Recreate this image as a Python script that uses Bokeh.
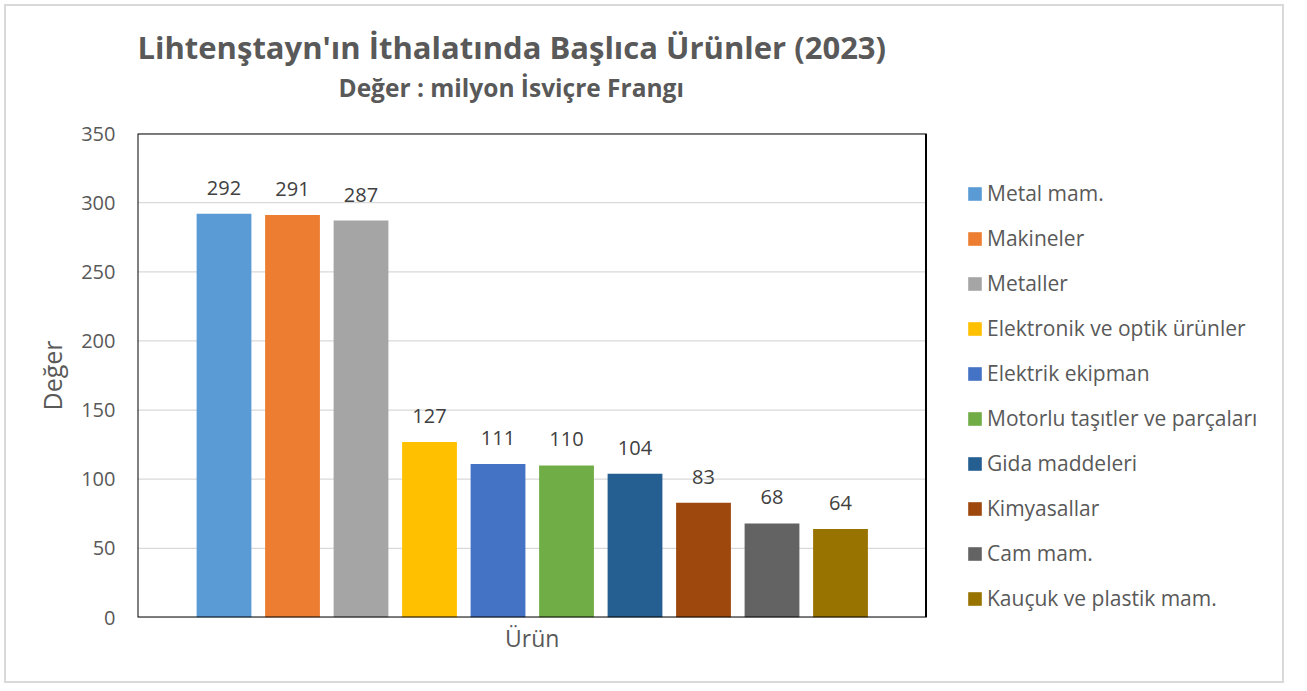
from bokeh.plotting import figure
from bokeh.models import (ColumnDataSource, LabelSet, Legend, LegendItem, Range1d,
                          FixedTicker, Title, BoxAnnotation)
from bokeh.embed import file_html
from bokeh.resources import INLINE
from bokeh.core.properties import value

categories = ["Metal mam.", "Makineler", "Metaller", "Elektronik ve optik ürünler",
              "Elektrik ekipman", "Motorlu taşıtler ve parçaları", "Gida maddeleri",
              "Kimyasallar", "Cam mam.", "Kauçuk ve plastik mam."]
values = [292, 291, 287, 127, 111, 110, 104, 83, 68, 64]
colors = ["#5B9BD5", "#ED7D31", "#A5A5A5", "#FFC000", "#4472C4",
          "#70AD47", "#255E91", "#9E480E", "#636363", "#997300"]
y_ticks = [0, 50, 100, 150, 200, 250, 300, 350]
title_text = "Lihtenştayn'ın İthalatında Başlıca Ürünler (2023)"
subtitle_text = "Değer : milyon İsviçre Frangı"
x_label = "Ürün"
y_label = "Değer"

FONT = "Open Sans"
W, H = 1280, 679
X0, X1 = -1.263, 10.248          # extent of the plotting box in x units
Y0, Y1 = 0, 350

src = ColumnDataSource(dict(x=list(range(len(values))), top=values, color=colors,
                            label=[str(v) for v in values], cat=categories))

p = figure(width=W, height=H, output_backend="svg", toolbar_location=None, title=None,
           x_range=Range1d(X0, 15.511), y_range=Range1d(Y0, Y1),
           min_border_left=131, min_border_right=0, min_border_top=127, min_border_bottom=68)
p.styles = {"border": "2px solid #d9d9d9", "margin": "4px"}
p.outline_line_color = None

# x axis: single category label centred under the bars
p.xaxis.ticker = FixedTicker(ticks=[4.5])
p.xaxis.major_label_overrides = {4.5: x_label}
p.xaxis.axis_line_color = None
p.xaxis.major_tick_line_color = None
p.xaxis.minor_tick_line_color = None
p.xaxis.major_label_standoff = -2
p.xaxis.major_label_text_font = FONT
p.xaxis.major_label_text_font_size = "23px"
p.xaxis.major_label_text_color = "#595959"
p.xgrid.visible = False
p.ygrid.visible = False

p.yaxis.ticker = FixedTicker(ticks=y_ticks)
p.yaxis.axis_line_color = None
p.yaxis.major_tick_line_color = None
p.yaxis.minor_tick_line_color = None
p.yaxis.major_label_standoff = 16
p.yaxis.major_label_text_font = FONT
p.yaxis.major_label_text_font_size = "20px"
p.yaxis.major_label_text_color = "#595959"
p.yaxis.axis_label = y_label
p.yaxis.axis_label_text_font = FONT
p.yaxis.axis_label_text_font_size = "25px"
p.yaxis.axis_label_text_font_style = "normal"
p.yaxis.axis_label_text_color = "#595959"
p.yaxis.axis_label_standoff = 9

# horizontal gridlines limited to the plotting box
p.segment(x0=[X0] * len(y_ticks), x1=[X1] * len(y_ticks), y0=y_ticks, y1=y_ticks,
          line_color="#d9d9d9", line_width=1.2)

r = p.vbar(x="x", top="top", width=0.8, color="color", line_color=None, source=src)

# black box around the plotting area
p.add_layout(BoxAnnotation(left=X0, right=X1, bottom=Y0, top=Y1, fill_alpha=0,
                           line_color="black", line_alpha=1.0, line_width=2,
                           level="overlay"))

labels = LabelSet(x="x", y="top", text="label", source=src, text_align="center",
                  text_baseline="middle", y_offset=26, text_font=value(FONT),
                  text_font_size=value("20px"), text_color="#404040")
p.add_layout(labels)

items = [LegendItem(label=c, renderers=[r], index=i) for i, c in enumerate(categories)]
legend = Legend(items=items, location=(829, 1), orientation="vertical",
                glyph_width=17, glyph_height=17, label_height=36, spacing=9,
                padding=0, margin=0, label_standoff=4,
                label_text_font=FONT, label_text_font_size="21px",
                label_text_color="#595959", border_line_alpha=0,
                background_fill_alpha=0)
p.add_layout(legend)

# above: spacer, subtitle, title (stacked outward from the plot frame)
p.add_layout(Title(text=" ", text_font_size="1px", standoff=26), "above")
p.add_layout(Title(text=subtitle_text, align="left", offset=201, text_font=FONT,
                   text_font_size="24.5px", text_font_style="bold",
                   text_color="#595959", standoff=2), "above")
p.add_layout(Title(text=title_text, align="left", offset=0, text_font=FONT,
                   text_font_size="31px", text_font_style="bold",
                   text_color="#595959", standoff=0), "above")

open("out.html", "w").write(file_html(p, INLINE))
